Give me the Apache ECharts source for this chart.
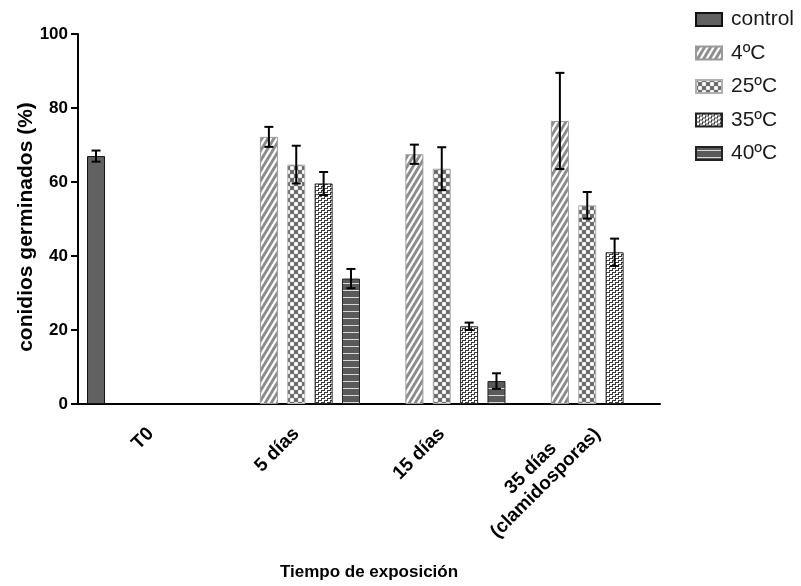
<!DOCTYPE html>
<html>
<head>
<meta charset="utf-8">
<script src="https://cdn.jsdelivr.net/npm/echarts@6/dist/echarts.min.js"></script>
<style>html,body{margin:0;padding:0;background:#fff;overflow:hidden}#c{width:801px;height:586px}</style>
</head>
<body>
<div id="c"></div>
<script>
// ---- data ----
const categories = ['T0', '5 días', '15 días', '35 días\n(clamidosporas)'];
const seriesNames = ['control', '4ºC', '25ºC', '35ºC', '40ºC'];
const controlVals = [67.0, null, null, null];
const controlErr  = [1.5, null, null, null];
const c4Vals  = [null, 72.2, 67.5, 76.5];
const c4Err   = [null, 2.7, 2.6, 13.0];
const c25Vals = [null, 64.7, 63.6, 53.7];
const c25Err  = [null, 5.1, 5.8, 3.6];
const c35Vals = [null, 59.6, 21.0, 41.0];
const c35Err  = [null, 3.1, 1.0, 3.7];
const c40Vals = [null, 33.9, 6.2, null];
const c40Err  = [null, 2.6, 2.1, null];
const yTicks = [0, 20, 40, 60, 80, 100];

const allVals = [controlVals, c4Vals, c25Vals, c35Vals, c40Vals];
const allErr = [controlErr, c4Err, c25Err, c35Err, c40Err];

// ---- patterns ----
function mk(w, h, draw) {
  const cv = document.createElement('canvas');
  cv.width = w; cv.height = h;
  const ctx = cv.getContext('2d');
  draw(ctx, w, h);
  return { image: cv, repeat: 'repeat' };
}
const patControl = '#616161';
const pat4 = mk(6, 10, (c, w, h) => {
  c.fillStyle = '#8c8c8c'; c.fillRect(0, 0, w, h);
  c.strokeStyle = '#ffffff'; c.lineWidth = 2.2;
  c.beginPath();
  c.moveTo(-w, 2 * h); c.lineTo(2 * w, -h);
  c.moveTo(-2 * w, 2 * h); c.lineTo(w, -h);
  c.moveTo(0, 2 * h); c.lineTo(3 * w, -h);
  c.stroke();
});
const pat25 = mk(8, 8, (c, w, h) => {
  c.fillStyle = '#ffffff'; c.fillRect(0, 0, w, h);
  c.strokeStyle = '#707070'; c.lineWidth = 1.2;
  c.beginPath(); c.moveTo(0, 0); c.lineTo(8, 8); c.moveTo(8, 0); c.lineTo(0, 8); c.stroke();
  c.fillStyle = '#666666';
  const dia = (x, y, r) => { c.beginPath(); c.moveTo(x, y - r); c.lineTo(x + r, y); c.lineTo(x, y + r); c.lineTo(x - r, y); c.closePath(); c.fill(); };
  dia(4, 4, 2.5); dia(0, 0, 2.5); dia(8, 0, 2.5); dia(0, 8, 2.5); dia(8, 8, 2.5);
});
const pat35 = mk(6, 4, (c, w, h) => {
  c.fillStyle = '#ffffff'; c.fillRect(0, 0, w, h);
  c.fillStyle = '#3a3a3a';
  c.fillRect(0, 0, 4, 1);
  c.fillRect(0, 0, 1, 3);
  c.fillRect(3, 2, 3, 1);
  c.fillRect(3, 2, 1, 2);
});
const pat40 = mk(4, 7, (c, w, h) => {
  c.fillStyle = '#5a5a5a'; c.fillRect(0, 0, w, h);
  c.fillStyle = '#d8d8d8'; c.fillRect(0, 3, w, 1);
});
const fills = [patControl, pat4, pat25, pat35, pat40];
const borders = ['#111', '#9a9a9a', '#b0b0b0', '#222', '#222'];

const BAR_W = 18;
const BAR_GAP = 0.52; // fraction of bar width
const step = BAR_W * (1 + BAR_GAP);

const font = '"Liberation Sans", Arial, sans-serif';
const series = [];
seriesNames.forEach((name, i) => {
  series.push({
    name: name, type: 'bar',
    data: allVals[i].map(v => v == null ? '-' : v),
    barWidth: BAR_W, barGap: (BAR_GAP * 100) + '%',
    itemStyle: { color: fills[i], borderColor: borders[i], borderWidth: 1 },
    emphasis: { disabled: true },
    z: 2
  });
});
seriesNames.forEach((name, i) => {
  const d = [];
  allVals[i].forEach((v, k) => { if (v != null && allErr[i][k] != null) d.push([k, v, allErr[i][k]]); });
  const off = (i - (seriesNames.length - 1) / 2) * step;
  series.push({
    type: 'custom', name: name + '_err', z: 5, silent: true,
    data: d,
    renderItem: function (params, api) {
      const k = api.value(0), m = api.value(1), e = api.value(2);
      const top = api.coord([k, m + e]);
      const bot = api.coord([k, m - e]);
      const x = top[0] + off;
      const cw = 4.5;
      const st = { stroke: '#000', lineWidth: 2 };
      return { type: 'group', children: [
        { type: 'line', shape: { x1: x, y1: top[1], x2: x, y2: bot[1] }, style: st },
        { type: 'line', shape: { x1: x - cw, y1: top[1], x2: x + cw, y2: top[1] }, style: st },
        { type: 'line', shape: { x1: x - cw, y1: bot[1], x2: x + cw, y2: bot[1] }, style: st }
      ]};
    }
  });
});

// multi-line category labels use a different padding so their block sits like the reference
const xData = categories.map(c => c.indexOf('\n') >= 0 ? { value: c, textStyle: { padding: [8, 0, 0, 0] } } : c);

const chart = echarts.init(document.getElementById('c'), null, { renderer: 'canvas' });
chart.setOption({
  animation: false,
  backgroundColor: '#ffffff',
  grid: { left: 78, width: 582, top: 34, height: 375, containLabel: false },
  legend: {
    data: seriesNames, orient: 'vertical', left: 690, top: 4,
    icon: 'rect',
    itemWidth: 26, itemHeight: 13, itemGap: 12.5,
    textStyle: { fontFamily: font, fontSize: 21, color: '#1a1a1a', padding: [0, 0, 0, 4] },
    selectedMode: false
  },
  xAxis: {
    type: 'category', data: xData,
    name: 'Tiempo de exposición', nameLocation: 'middle', nameGap: 160,
    nameMoveOverlap: false,
    nameTextStyle: { fontFamily: font, fontSize: 17, fontWeight: 'bold', color: '#000' },
    axisLine: { lineStyle: { color: '#000', width: 2 } },
    axisTick: { alignWithLabel: true, length: 6, lineStyle: { color: '#000', width: 2 } },
    axisLabel: {
      rotate: 45, margin: 17, interval: 0, padding: [14, 7, 0, 0],
      fontFamily: font, fontSize: 19, fontWeight: 'bold', color: '#000',
      formatter: v => v.split('\n').map(s => '{a|' + s + '}').join('\n'),
      rich: { a: { fontFamily: font, fontSize: 19, fontWeight: 'bold', color: '#000', align: 'center', lineHeight: 21 } }
    },
    splitLine: { show: false }
  },
  yAxis: {
    type: 'value', min: yTicks[0], max: yTicks[yTicks.length - 1], interval: 20,
    name: 'conidios germinados (%)', nameLocation: 'middle', nameGap: 41,
    nameMoveOverlap: false,
    nameTextStyle: { fontFamily: font, fontSize: 21, fontWeight: 'bold', color: '#000', padding: [0, 16, 0, 0] },
    axisLine: { show: true, lineStyle: { color: '#000', width: 2 } },
    axisTick: { show: true, length: 7, lineStyle: { color: '#000', width: 2 } },
    axisLabel: { margin: 10, fontFamily: font, fontSize: 17, fontWeight: 'bold', color: '#000' },
    splitLine: { show: false }
  },
  series: series
});
</script>
</body>
</html>
